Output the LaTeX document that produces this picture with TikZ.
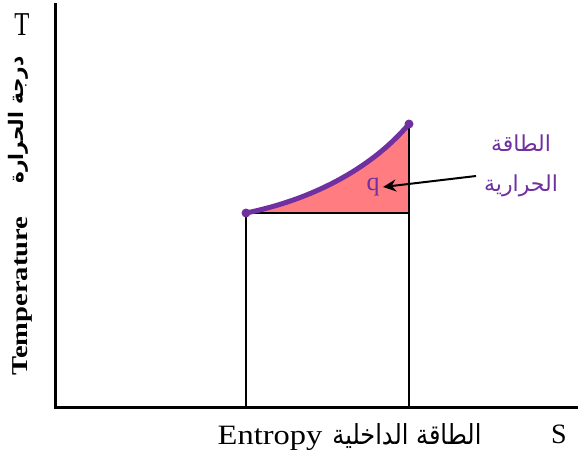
\documentclass[tikz,border=0pt]{standalone}
\usepackage{fontspec}
\usepackage{graphicx}
\setmainfont{Liberation Serif}
\newfontfamily\arabicfont[Script=Arabic]{DejaVu Sans}
\TeXXeTstate=1
\usetikzlibrary{arrows.meta,positioning,calc}
\definecolor{curvepurple}{HTML}{7030A0}
\definecolor{heatfill}{HTML}{FF7C80}

\begin{document}
\begin{tikzpicture}[x=1pt,y=-1pt]
  \useasboundingbox (0,0) rectangle (578,456);
  \coordinate (origin) at (55,407);
  \coordinate (ytop) at (55,3);
  \coordinate (xend) at (578,407);
  \coordinate (s1) at (246,213);
  \coordinate (s2) at (409,213);
  \coordinate (top) at (409,124);
  \coordinate (b1) at (246,407);
  \coordinate (b2) at (409,407);

  % heat area under the curve
  \fill[heatfill] (s1) .. controls (310,200) and (370,170) .. (top) -- (s2) -- cycle;
  \draw[line width=2pt] (b1) -- (s1) -- (s2) -- (b2);
  \draw[line width=2pt] (s2) -- (top);
  \draw[curvepurple, line width=5pt, line cap=round] (s1) .. controls (310,200) and (370,170) .. (top);
  \fill[curvepurple] (s1) circle (4.5) (top) circle (4.5);

  % axes
  \draw[line width=3pt] (ytop) -- (origin) -- (xend);

  \node[font=\fontsize{29}{30}\selectfont] (tlab) at (22,25) {\scalebox{0.85}[1.15]{T}};
  \node[font=\fontsize{20}{24}\selectfont\bfseries, rotate=90] (arT) at (18,120)
    {\arabicfont\beginR درجة الحرارة\endR};
  \node[font=\fontsize{22.7}{27}\selectfont\bfseries, rotate=90] (temp) at (22,296)
    {\scalebox{1.26}[1]{Temperature}};

  \node[font=\fontsize{28}{30}\selectfont, anchor=base] (entropy) at (270,444)
    {\scalebox{1.16}[1]{Entropy}};
  \node[font=\fontsize{24}{30}\selectfont, anchor=base west] (arS) at ([xshift=3pt]entropy.base east)
    {\arabicfont\scalebox{1}[1.15]{\beginR الطاقة الداخلية\endR}};
  \node[font=\fontsize{28}{30}\selectfont] (slab) at (559,434) {S};

  \node[text=curvepurple, font=\fontsize{26}{30}\selectfont] (q) at (373,187) {q};
  \node[text=curvepurple, font=\fontsize{22}{40}\selectfont, align=center] (heat) at (521,166)
    {\arabicfont\beginR الطاقة\endR\\\arabicfont\beginR الحرارية\endR};
  \coordinate (qtail) at (476,176);
  \draw[-{Stealth[length=13pt,width=12pt]}, line width=2pt] (qtail) -- (q.east);
\end{tikzpicture}
\end{document}
